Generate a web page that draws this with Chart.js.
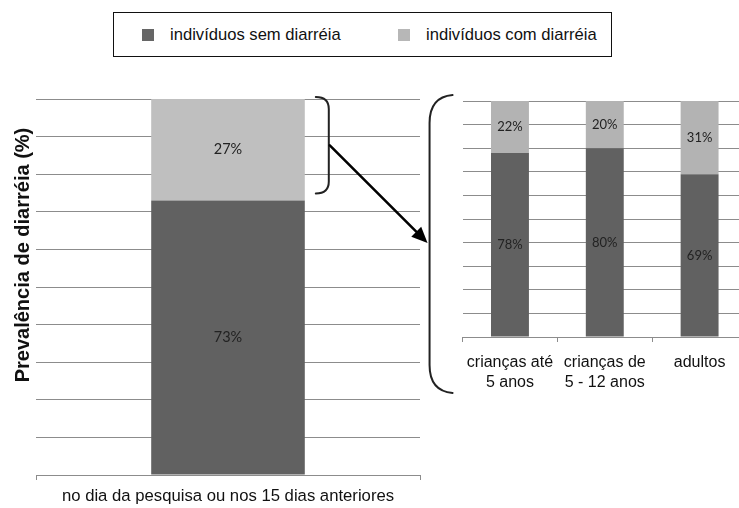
<!DOCTYPE html>
<html>
<head>
<meta charset="utf-8">
<script src="https://cdn.jsdelivr.net/npm/chart.js@4.4.1/dist/chart.umd.min.js"></script>
<style>
  html, body { margin: 0; padding: 0; width: 739px; height: 508px; overflow: hidden; background: #fff; }
  body { position: relative; font-family: "Liberation Sans", Arial, sans-serif; }
  canvas { position: absolute; }
  #legend { position: absolute; left: 113px; top: 12px; width: 497px; height: 43px; border: 1px solid #111; }
  .item { position: absolute; top: 0; height: 43px; line-height: 43px; font-size: 16.6px; color: #111; white-space: nowrap; }
  .sw { display: inline-block; width: 12px; height: 12px; margin-right: 16px; vertical-align: -1px; }
</style>
</head>
<body>
<div id="legend">
  <div class="item" style="left:28px"><span class="sw" style="background:#666666"></span><span id="lg0"></span></div>
  <div class="item" style="left:284px"><span class="sw" style="background:#b7b7b7"></span><span id="lg1"></span></div>
</div>
<canvas id="leftChart" width="440" height="428" style="left:0;top:80px"></canvas>
<canvas id="rightChart" width="292" height="330" style="left:455px;top:80px"></canvas>
<canvas id="notes" width="739" height="508" style="left:0;top:0;pointer-events:none"></canvas>

<script>
// --- data ---
const seriesNames = ['indivíduos sem diarréia', 'indivíduos com diarréia'];

const leftCategories = ['no dia da pesquisa ou nos 15 dias anteriores'];
const leftSem = [73];
const leftCom = [27];

const rightCategories = [['crianças até', '5 anos'], ['crianças de', '5 - 12 anos'], ['adultos']];
const rightSem = [78, 80, 69];
const rightCom = [22, 20, 31];

const yTitle = 'Prevalência de diarréia (%)';

const darkGray = '#616161';
const gridGray = '#8c8c8c';

document.getElementById('lg0').textContent = seriesNames[0];
document.getElementById('lg1').textContent = seriesNames[1];

// percentage text in the middle of every segment
const barLabels = {
  id: 'barLabels',
  afterDatasetsDraw(chart, args, opts) {
    const ctx = chart.ctx;
    ctx.save();
    ctx.font = opts.font;
    ctx.fillStyle = '#222';
    ctx.textAlign = 'center';
    ctx.textBaseline = 'middle';
    chart.data.datasets.forEach((ds, i) => {
      chart.getDatasetMeta(i).data.forEach((el, j) => {
        ctx.fillText(ds.data[j] + '%', el.x, (el.y + el.base) / 2);
      });
    });
    ctx.restore();
  }
};

// rotated y title (sits a bit above the middle, like the original)
const sideTitle = {
  id: 'sideTitle',
  afterDraw(chart, args, opts) {
    if (!opts.text) return;
    const ctx = chart.ctx, a = chart.chartArea;
    ctx.save();
    ctx.translate(23, a.top + a.height * 0.415);
    ctx.rotate(-Math.PI / 2);
    ctx.font = 'bold 20px "Liberation Sans", Arial, sans-serif';
    ctx.fillStyle = '#111';
    ctx.textAlign = 'center';
    ctx.textBaseline = 'middle';
    ctx.fillText(opts.text, 0, 0);
    ctx.restore();
  }
};

function makeOptions(cfg) {
  return {
    responsive: false,
    animation: false,
    layout: { padding: cfg.padding },
    plugins: {
      legend: { display: false },
      tooltip: { enabled: false },
      barLabels: { font: cfg.labelFont },
      sideTitle: { text: cfg.title || '' }
    },
    scales: {
      x: {
        stacked: true,
        afterFit: s => { s.height = cfg.xHeight; },
        border: { display: true, color: gridGray, width: 1 },
        grid: { drawOnChartArea: false, drawTicks: true, tickLength: 5, color: gridGray },
        ticks: {
          color: '#111',
          padding: cfg.tickPad,
          maxRotation: 0,
          autoSkip: false,
          font: { family: '"Liberation Sans", Arial, sans-serif', size: cfg.tickSize, lineHeight: 1.25 }
        }
      },
      y: {
        stacked: true,
        min: 0,
        max: 100,
        afterFit: s => { s.width = cfg.yWidth; },
        border: { display: false },
        grid: { color: gridGray, lineWidth: 1, drawTicks: false },
        ticks: { display: false, stepSize: 10 }
      }
    }
  };
}

function datasets(sem, com, lightColor) {
  return [
    { label: seriesNames[0], data: sem, backgroundColor: darkGray, categoryPercentage: 1, barPercentage: 0.4 },
    { label: seriesNames[1], data: com, backgroundColor: lightColor, categoryPercentage: 1, barPercentage: 0.4 }
  ];
}

const leftChart = new Chart(document.getElementById('leftChart'), {
  type: 'bar',
  data: { labels: leftCategories, datasets: datasets(leftSem, leftCom, '#bfbfbf') },
  options: makeOptions({
    padding: { left: 9, right: 20, top: 19, bottom: 0 },
    yWidth: 27, xHeight: 33, tickPad: 6, tickSize: 16.7,
    labelFont: '14.5px Lato, "Open Sans", sans-serif',
    title: yTitle
  }),
  plugins: [barLabels, sideTitle]
});

const rightChart = new Chart(document.getElementById('rightChart'), {
  type: 'bar',
  data: { labels: rightCategories, datasets: datasets(rightSem, rightCom, '#b3b3b3') },
  options: makeOptions({
    padding: { left: 5, right: 0, top: 21, bottom: 0 },
    yWidth: 0, xHeight: 73, tickPad: 11, tickSize: 16,
    labelFont: '13px Lato, "Open Sans", sans-serif'
  }),
  plugins: [barLabels]
});

// braces and arrow linking the two panels
(function drawNotes() {
  const ctx = document.getElementById('notes').getContext('2d');
  const ly = leftChart.scales.y;
  const bar = leftChart.getDatasetMeta(1).data[0];
  const lTop = 80 + ly.getPixelForValue(100) - 2;
  const lBot = 80 + ly.getPixelForValue(leftSem[0]) - 7;
  const bx0 = bar.x + bar.width / 2 + 11;
  const bx1 = bx0 + 13;
  const bMid = (lTop + lBot) / 2;

  ctx.strokeStyle = '#222';
  ctx.lineWidth = 2;
  ctx.lineCap = 'round';

  // small closing brace
  ctx.beginPath();
  ctx.moveTo(bx0, lTop);
  ctx.quadraticCurveTo(bx1, lTop, bx1, lTop + 12);
  ctx.lineTo(bx1, lBot - 12);
  ctx.quadraticCurveTo(bx1, lBot, bx0, lBot);
  ctx.stroke();

  // large opening brace around the right panel
  const rc = rightChart.chartArea;
  const gx0 = 455 + rc.left - 33;
  const gx1 = gx0 + 23;
  const gTop = 80 + rc.top - 6;
  const gBot = 80 + rc.bottom + 56;
  ctx.beginPath();
  ctx.moveTo(gx1, gTop);
  ctx.quadraticCurveTo(gx0, gTop + 2, gx0, gTop + 28);
  ctx.lineTo(gx0, gBot - 28);
  ctx.quadraticCurveTo(gx0, gBot - 2, gx1, gBot);
  ctx.stroke();

  // arrow
  const ax0 = bx1 + 1, ay0 = bMid;
  const ax1 = gx0 - 2, ay1 = 243;
  const ang = Math.atan2(ay1 - ay0, ax1 - ax0);
  const hl = 16, hw = 7;
  const bxh = ax1 - hl * Math.cos(ang), byh = ay1 - hl * Math.sin(ang);
  ctx.strokeStyle = '#000';
  ctx.lineWidth = 2.5;
  ctx.beginPath();
  ctx.moveTo(ax0, ay0);
  ctx.lineTo(bxh, byh);
  ctx.stroke();
  ctx.fillStyle = '#000';
  ctx.beginPath();
  ctx.moveTo(ax1, ay1);
  ctx.lineTo(bxh + hw * Math.sin(ang), byh - hw * Math.cos(ang));
  ctx.lineTo(bxh - hw * Math.sin(ang), byh + hw * Math.cos(ang));
  ctx.closePath();
  ctx.fill();
})();
</script>
</body>
</html>
